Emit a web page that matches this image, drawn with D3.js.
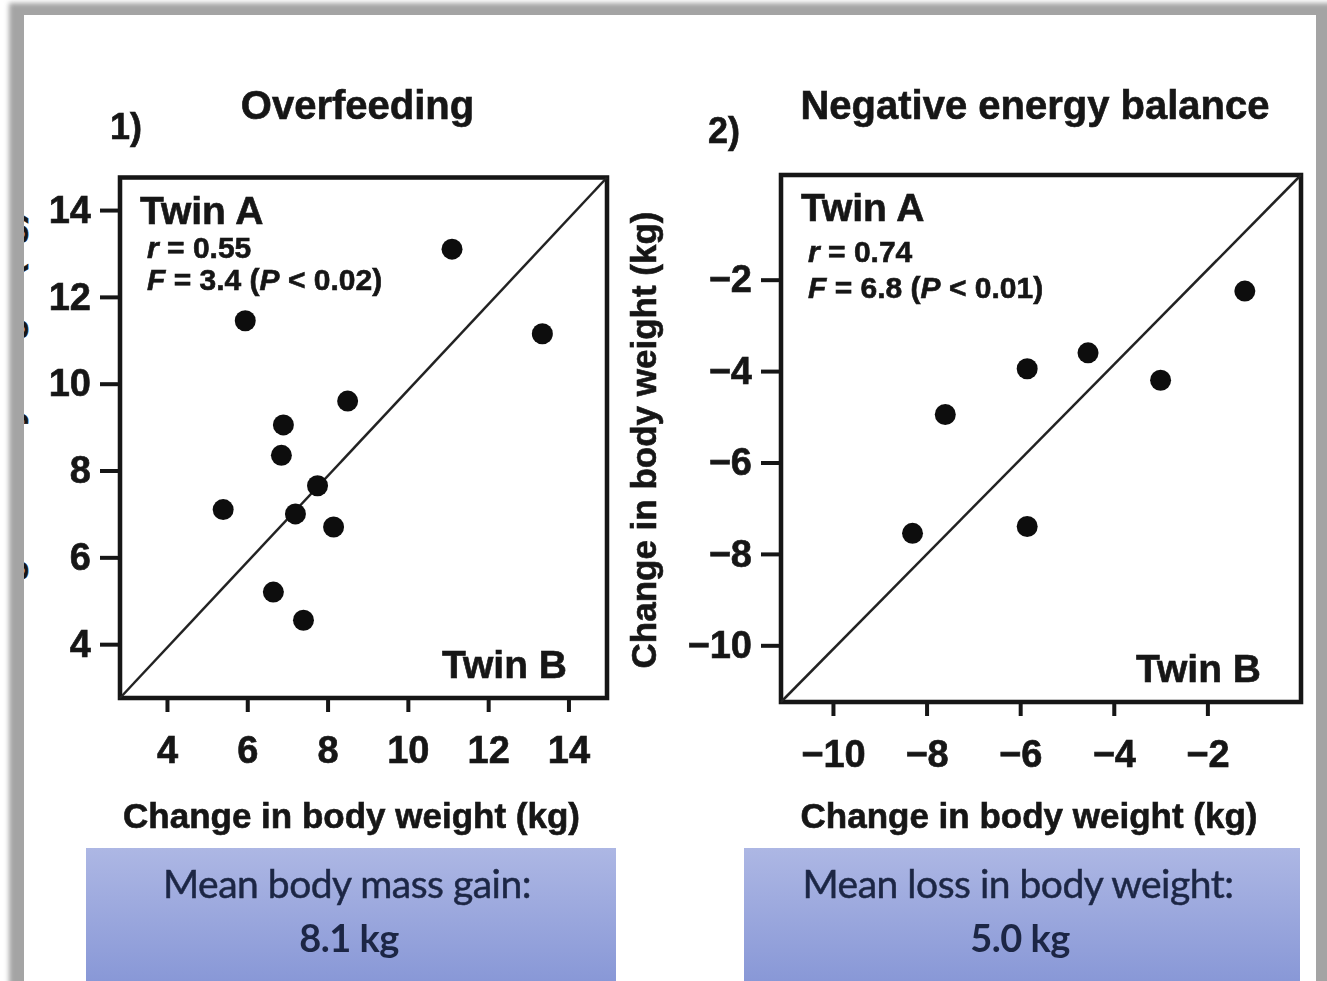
<!DOCTYPE html>
<html>
<head>
<meta charset="utf-8">
<script src="https://cdn.jsdelivr.net/npm/d3@7"></script>
<style>
  html, body { margin: 0; padding: 0; background: #fff; }
  svg { display: block; }
  text { font-family: "Liberation Sans", Arial, sans-serif; font-weight: bold; fill: #151515; }
  .heavy { stroke: #151515; stroke-width: 0.6px; }
</style>
</head>
<body>
<svg id="chart" width="1327" height="981"></svg>
<script>
// panel 1: overfeeding, twin B on x, twin A on y (kg)
var overTwinB = [11.1, 13.35, 5.95, 8.5, 6.9, 6.85, 5.4, 7.75, 7.2, 8.15, 6.65, 7.4];
var overTwinA = [13.1, 11.15, 11.45, 9.6, 9.05, 8.35, 7.1, 7.65, 7.0, 6.7, 5.2, 4.55];
var overTicks = [4, 6, 8, 10, 12, 14];

// panel 2: negative energy balance
var negTwinB = [-1.2, -4.55, -5.85, -3.0, -7.6, -8.3, -5.85];
var negTwinA = [-2.25, -3.6, -3.95, -4.2, -4.95, -7.55, -7.4];
var negTicks = [-10, -8, -6, -4, -2];

var panelNumbers = ["1)", "2)"];
var panelTitles = ["Overfeeding", "Negative energy balance"];
var statR = ["0.55", "0.74"];
var statF = ["3.4", "6.8"];
var statP = ["0.02", "0.01"];
var meanLabels = ["Mean body mass gain:", "Mean loss in body weight:"];
var meanValues = ["8.1 kg", "5.0 kg"];
var axisLabel = "Change in body weight (kg)";

var svg = d3.select("#chart");
var defs = svg.append("defs");

defs.append("filter").attr("id", "soft")
  .append("feGaussianBlur").attr("stdDeviation", 2.5);
defs.append("filter").attr("id", "fuzz")
  .append("feGaussianBlur").attr("stdDeviation", 0.7);

var grad = defs.append("linearGradient").attr("id", "boxfill")
  .attr("x1", 0).attr("y1", 0).attr("x2", 0).attr("y2", 1);
grad.append("stop").attr("offset", "0%").attr("stop-color", "#adb7e4");
grad.append("stop").attr("offset", "100%").attr("stop-color", "#8494d5");

defs.append("clipPath").attr("id", "page")
  .append("rect").attr("x", 24).attr("y", 15).attr("width", 1292).attr("height", 970);

// gray frame
svg.append("rect")
  .attr("x", 9).attr("y", 3).attr("width", 1340).attr("height", 1010)
  .attr("fill", "#a4a4a4").attr("filter", "url(#soft)");
svg.append("rect")
  .attr("x", 24).attr("y", 15).attr("width", 1292).attr("height", 980)
  .attr("fill", "#fff");

var root = svg.append("g").attr("filter", "url(#fuzz)");

var panels = [
  { xs: overTwinB, ys: overTwinA, ticks: overTicks,
    left: 120, right: 607, top: 177.5, bottom: 698,
    xDom: [2.83, 14.96], yDom: [2.76, 14.75],
    rY: 80, fY: 112, numX: 110, numY: 139,
    boxL: 86, boxR: 616 },
  { xs: negTwinB, ys: negTwinA, ticks: negTicks,
    left: 781, right: 1301, top: 175, bottom: 702,
    xDom: [-11.11, 0], yDom: [-11.24, 0.29],
    rY: 87, fY: 123, numX: 708, numY: 143,
    boxL: 744, boxR: 1300 }
];

panels.forEach(function (p, i) {
  var x = d3.scaleLinear().domain(p.xDom).range([p.left, p.right]);
  var y = d3.scaleLinear().domain(p.yDom).range([p.bottom, p.top]);
  var g = root.append("g");
  var cx = (p.left + p.right) / 2;

  // axes
  var ya = g.append("g")
    .attr("transform", "translate(" + p.left + ",0)")
    .call(d3.axisLeft(y).tickValues(p.ticks).tickSize(20).tickPadding(9));
  var xa = g.append("g")
    .attr("transform", "translate(0," + p.bottom + ")")
    .call(d3.axisBottom(x).tickValues(p.ticks).tickSize(14).tickPadding(24));
  [ya, xa].forEach(function (a) {
    a.select(".domain").remove();
    a.selectAll("line").attr("stroke", "#151515").attr("stroke-width", 4);
    a.selectAll("text")
      .attr("class", "heavy")
      .style("font-size", "38px")
      .style("font-family", "'Liberation Sans', Arial, sans-serif")
      .style("font-weight", "bold")
      .attr("fill", "#151515");
  });

  // frame + identity line
  g.append("rect")
    .attr("x", p.left).attr("y", p.top)
    .attr("width", p.right - p.left).attr("height", p.bottom - p.top)
    .attr("fill", "none").attr("stroke", "#151515").attr("stroke-width", 4.5);
  g.append("line")
    .attr("x1", x(p.xDom[0])).attr("y1", y(p.yDom[0]))
    .attr("x2", x(p.xDom[1])).attr("y2", y(p.yDom[1]))
    .attr("stroke", "#222").attr("stroke-width", 2.5);

  // points
  g.selectAll(".dot")
    .data(p.xs.map(function (v, k) { return [v, p.ys[k]]; }))
    .enter().append("circle")
    .attr("class", "dot")
    .attr("cx", function (d) { return x(d[0]); })
    .attr("cy", function (d) { return y(d[1]); })
    .attr("r", 10.5)
    .attr("fill", "#111");

  // labels inside box
  g.append("text").attr("class", "heavy")
    .attr("x", p.left + 20).attr("y", p.top + 46)
    .style("font-size", "39px").text("Twin A");
  var r = g.append("text").attr("class", "heavy")
    .attr("x", p.left + 27).attr("y", p.top + p.rY)
    .style("font-size", "30px");
  r.append("tspan").style("font-style", "italic").text("r");
  r.append("tspan").text(" = " + statR[i]);
  var f = g.append("text").attr("class", "heavy")
    .attr("x", p.left + 27).attr("y", p.top + p.fY)
    .style("font-size", "30px");
  f.append("tspan").style("font-style", "italic").text("F");
  f.append("tspan").text(" = " + statF[i] + " (");
  f.append("tspan").style("font-style", "italic").text("P");
  f.append("tspan").text(" < " + statP[i] + ")");
  g.append("text").attr("class", "heavy")
    .attr("x", p.right - 40).attr("y", p.bottom - 20)
    .attr("text-anchor", "end").style("font-size", "39px").text("Twin B");

  // titles
  g.append("text").attr("class", "heavy").attr("x", p.numX).attr("y", p.numY)
    .style("font-size", "36px").text(panelNumbers[i]);
  g.append("text").attr("class", "heavy").attr("x", cx - 6).attr("y", 119)
    .attr("text-anchor", "middle").style("font-size", "40px").text(panelTitles[i]);

  // axis titles
  g.append("text").attr("class", "heavy").attr("x", cx - 12).attr("y", 828)
    .attr("text-anchor", "middle").style("font-size", "35px").text(axisLabel);
  g.append("text")
    .attr("class", "heavy ylab" + i)
    .attr("transform", "translate(" + (p.left - 125) + "," + 440 + ") rotate(-90)")
    .attr("text-anchor", "middle")
    .style("font-size", "35px").text(axisLabel);

  // mean box
  var b = root.append("g");
  b.append("rect")
    .attr("x", p.boxL).attr("y", 848)
    .attr("width", p.boxR - p.boxL).attr("height", 150)
    .attr("fill", "url(#boxfill)");
  var bc = (p.boxL + p.boxR) / 2;
  b.append("text").attr("x", bc - 4).attr("y", 898).attr("text-anchor", "middle")
    .style("font-family", "Lato, 'Open Sans', sans-serif").style("font-weight", "normal")
    .style("font-size", "39px").style("letter-spacing", "-0.5px")
    .style("fill", "#1e2845").style("stroke", "#1e2845").style("stroke-width", "0.5px")
    .text(meanLabels[i]);
  b.append("text").attr("x", bc - 2).attr("y", 952).attr("text-anchor", "middle")
    .style("font-family", "Lato, 'Open Sans', sans-serif").style("font-weight", "bold")
    .style("font-size", "38px").style("letter-spacing", "-0.5px")
    .style("fill", "#1e2845")
    .text(meanValues[i]);
});

// the left panel's y title sits mostly under the frame edge
root.select(".ylab0")
  .attr("transform", "translate(21,440) rotate(-90)");
svg.append("g").attr("clip-path", "url(#page)").node()
  .appendChild(root.select(".ylab0").node());
</script>
</body>
</html>
